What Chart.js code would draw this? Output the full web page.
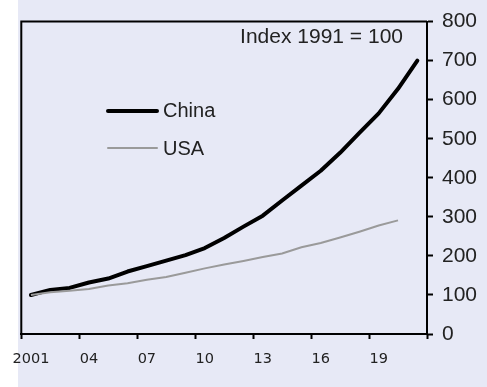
<!DOCTYPE html>
<html>
<head>
<meta charset="utf-8">
<script src="https://cdn.jsdelivr.net/npm/chart.js@4"></script>
<style>
  html, body { margin: 0; padding: 0; background: #ffffff; }
  #c { display: block; }
</style>
</head>
<body>
<canvas id="c" width="487" height="387"></canvas>
<script>
// Years on the category axis
const years = ['2001','2002','2003','2004','2005','2006','2007','2008','2009','2010','2011',
               '2012','2013','2014','2015','2016','2017','2018','2019','2020','2021'];
// Labels shown under the axis (every third year)
const tickLabels = ['2001','','','04','','','07','','','10','','','13','','','16','','','19','',''];
// Index values, 2001 = 100
const china = [100,113,118,132,142,160,174,188,202,220,246,275,303,342,380,418,464,515,565,628,700];
const usa   = [100,107,111,115,124,130,139,146,157,168,178,187,197,206,222,233,247,262,278,291,null];
// Right-hand value axis
const yMin = 0, yMax = 800, yStep = 100;

const BG = '#e7e9f6';
const TEXT = '#222222';
const MAIN_FONT = '"Liberation Sans", Arial, Helvetica, sans-serif';

const backdrop = {
  id: 'backdrop',
  beforeDraw(chart) {
    const { ctx, width, height } = chart;
    ctx.save();
    ctx.fillStyle = '#ffffff';
    ctx.fillRect(0, 0, width, height);
    ctx.fillStyle = BG;
    ctx.fillRect(18, 0, width - 18, height);
    ctx.restore();
  }
};

const frameAndNotes = {
  id: 'frameAndNotes',
  afterDraw(chart) {
    const { ctx, chartArea: a } = chart;
    ctx.save();
    // left and top edges of the plot frame
    ctx.strokeStyle = '#000';
    ctx.lineWidth = 2;
    ctx.beginPath();
    ctx.moveTo(a.left, a.bottom);
    ctx.lineTo(a.left, a.top);
    ctx.lineTo(a.right, a.top);
    ctx.stroke();

    ctx.fillStyle = TEXT;
    ctx.textBaseline = 'middle';
    ctx.textAlign = 'right';
    ctx.font = '21px ' + MAIN_FONT;
    ctx.fillText('Index 1991 = 100', 403, 37);

    // key
    ctx.font = '20px ' + MAIN_FONT;
    ctx.textAlign = 'left';
    ctx.lineCap = 'round';
    ctx.strokeStyle = '#000';
    ctx.lineWidth = 4;
    ctx.beginPath(); ctx.moveTo(108, 111); ctx.lineTo(157, 111); ctx.stroke();
    ctx.fillText('China', 163, 111);
    ctx.strokeStyle = '#9a9a9a';
    ctx.lineWidth = 2;
    ctx.beginPath(); ctx.moveTo(108, 148); ctx.lineTo(157, 148); ctx.stroke();
    ctx.fillText('USA', 163, 149);
    ctx.restore();
  }
};

new Chart(document.getElementById('c'), {
  type: 'line',
  data: {
    labels: years,
    datasets: [
      { label: 'USA', data: usa, borderColor: '#9a9a9a', borderWidth: 2,
        pointRadius: 0, tension: 0, fill: false, spanGaps: false },
      { label: 'China', data: china, borderColor: '#000000', borderWidth: 4,
        pointRadius: 0, tension: 0, fill: false, borderJoinStyle: 'round', borderCapStyle: 'round' }
    ]
  },
  options: {
    responsive: false,
    animation: false,
    devicePixelRatio: 1,
    layout: { padding: { left: 21, top: 17, right: 0, bottom: 0 } },
    plugins: { legend: { display: false }, tooltip: { enabled: false } },
    scales: {
      x: {
        type: 'category',
        offset: true,
        border: { display: true, color: '#000', width: 2 },
        grid: {
          offset: true,
          drawOnChartArea: false,
          drawTicks: true,
          tickLength: 5,
          tickWidth: 2,
          tickColor: (c) => (c.index === undefined || c.index % 3 === 0) ? '#000' : 'rgba(0,0,0,0)'
        },
        ticks: {
          autoSkip: false,
          maxRotation: 0,
          padding: 12,
          color: TEXT,
          font: { family: '"DejaVu Sans", Verdana, sans-serif', size: 14.5 },
          callback: (v, i) => tickLabels[i]
        },
        afterFit: (s) => { s.height = 53; }
      },
      y: {
        position: 'right',
        min: yMin,
        max: yMax,
        border: { display: true, color: '#000', width: 2 },
        grid: { drawOnChartArea: false, drawTicks: true, tickLength: 6, tickWidth: 2, tickColor: '#000' },
        ticks: {
          stepSize: yStep,
          padding: 9,
          color: TEXT,
          font: { family: MAIN_FONT, size: 21 }
        },
        afterFit: (s) => { s.width = 60; }
      }
    }
  },
  plugins: [backdrop, frameAndNotes]
});
</script>
</body>
</html>
